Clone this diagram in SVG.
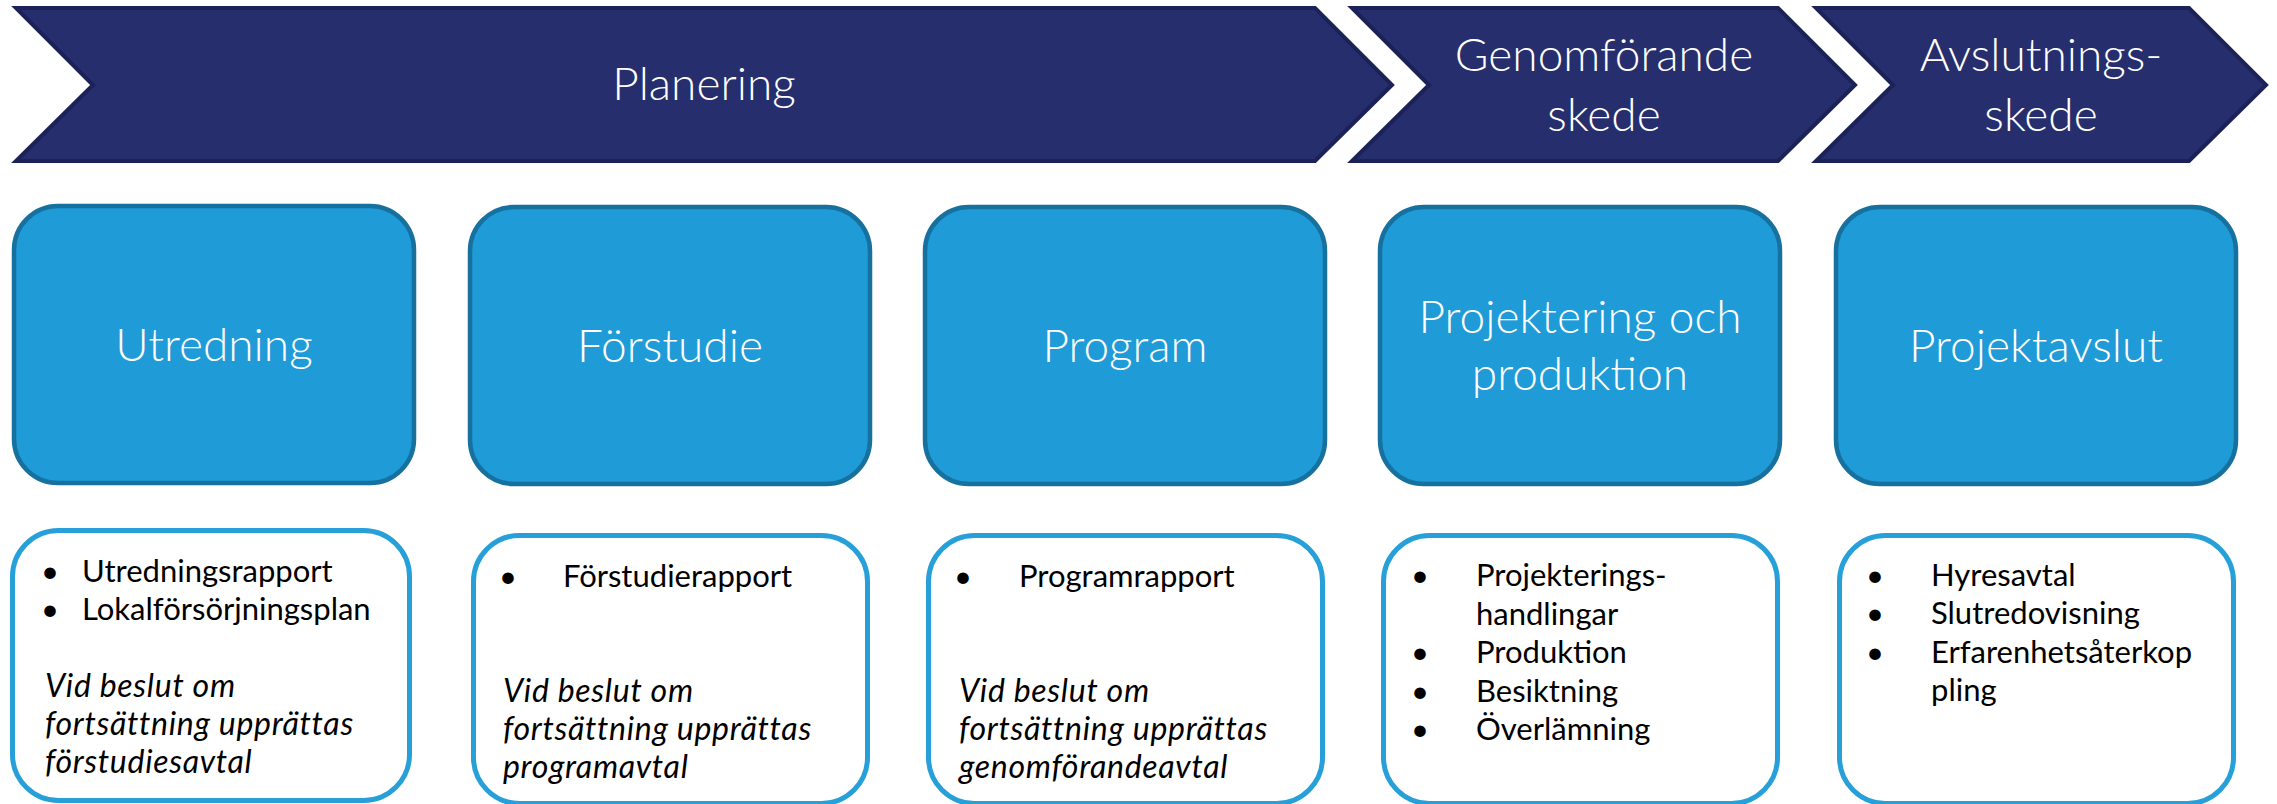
<svg xmlns="http://www.w3.org/2000/svg" width="2277" height="804" viewBox="0 0 2277 804">
  <style>
    .chev { fill: #262e6d; stroke: #1b2257; stroke-width: 4; stroke-linejoin: miter; }
    .phase { fill: #1f9bd8; stroke: #17719f; stroke-width: 4.5; }
    .info { fill: #ffffff; stroke: #27a0da; stroke-width: 5; }
    .big { font-family: Lato, "Open Sans", "Liberation Sans", sans-serif; font-weight: 300; font-size: 46px; fill: #ffffff; text-anchor: middle; }
    .body { font-family: Lato, "Open Sans", "Liberation Sans", sans-serif; font-size: 31px; fill: #000000; }
    .ital { font-family: Lato, "Open Sans", "Liberation Sans", sans-serif; font-size: 32px; letter-spacing: 0.7px; font-style: italic; fill: #000000; }
    .bul { font-family: Lato, "Open Sans", "Liberation Sans", sans-serif; font-size: 31px; fill: #000000; text-anchor: middle; }
  </style>

  <g id="connectors"></g>

  <g id="chevron-planering">
    <path class="chev" d="M16,8 L1315,8 L1392,85 L1315,161 L16,161 L93,85 Z"/>
    <text class="big" x="704" y="100">Planering</text>
  </g>
  <g id="chevron-genomforande">
    <path class="chev" d="M1352,8 L1778,8 L1855,85 L1778,161 L1352,161 L1429,85 Z"/>
    <text class="big" x="1604" y="71">Genomförande</text>
    <text class="big" x="1604" y="131">skede</text>
  </g>
  <g id="chevron-avslutning">
    <path class="chev" d="M1816,8 L2189,8 L2266,85 L2189,161 L1816,161 L1893,85 Z"/>
    <text class="big" x="2041" y="71">Avslutnings-</text>
    <text class="big" x="2041" y="131">skede</text>
  </g>

  <g id="phase-utredning">
    <rect class="phase" x="14" y="206" width="400" height="277" rx="44" ry="44"/>
    <text class="big" x="214" y="361">Utredning</text>
  </g>
  <g id="phase-forstudie">
    <rect class="phase" x="470" y="207" width="400" height="277" rx="44" ry="44"/>
    <text class="big" x="670" y="362">Förstudie</text>
  </g>
  <g id="phase-program">
    <rect class="phase" x="925" y="207" width="400" height="277" rx="44" ry="44"/>
    <text class="big" x="1125" y="362">Program</text>
  </g>
  <g id="phase-projektering">
    <rect class="phase" x="1380" y="207" width="400" height="277" rx="44" ry="44"/>
    <text class="big" x="1580" y="333">Projektering och</text>
    <text class="big" x="1580" y="390">produktion</text>
  </g>
  <g id="phase-projektavslut">
    <rect class="phase" x="1836" y="207" width="400" height="277" rx="44" ry="44"/>
    <text class="big" x="2036" y="362">Projektavslut</text>
  </g>

  <g id="info-utredning">
    <rect class="info" x="12.5" y="530.5" width="397" height="270" rx="46" ry="46"/>
    <text class="bul" x="50" y="582">•</text>
    <text class="body" x="82" y="582">Utredningsrapport</text>
    <text class="bul" x="50" y="620">•</text>
    <text class="body" x="82" y="620">Lokalförsörjningsplan</text>
    <text class="ital" x="45" y="697">Vid beslut om</text>
    <text class="ital" x="45" y="735">fortsättning upprättas</text>
    <text class="ital" x="45" y="773">förstudiesavtal</text>
  </g>
  <g id="info-forstudie">
    <rect class="info" x="473.5" y="535.5" width="394" height="268" rx="46" ry="46"/>
    <text class="bul" x="508" y="587">•</text>
    <text class="body" x="563" y="587">Förstudierapport</text>
    <text class="ital" x="503" y="702">Vid beslut om</text>
    <text class="ital" x="503" y="740">fortsättning upprättas</text>
    <text class="ital" x="503" y="778">programavtal</text>
  </g>
  <g id="info-program">
    <rect class="info" x="928.5" y="535.5" width="394" height="268" rx="46" ry="46"/>
    <text class="bul" x="963" y="587">•</text>
    <text class="body" x="1019" y="587">Programrapport</text>
    <text class="ital" x="959" y="702">Vid beslut om</text>
    <text class="ital" x="959" y="740">fortsättning upprättas</text>
    <text class="ital" x="959" y="778">genomförandeavtal</text>
  </g>
  <g id="info-projektering">
    <rect class="info" x="1383.5" y="535.5" width="394" height="268" rx="46" ry="46"/>
    <text class="bul" x="1420" y="586">•</text>
    <text class="body" x="1476" y="586">Projekterings-</text>
    <text class="body" x="1476" y="625">handlingar</text>
    <text class="bul" x="1420" y="663">•</text>
    <text class="body" x="1476" y="663">Produktion</text>
    <text class="bul" x="1420" y="702">•</text>
    <text class="body" x="1476" y="702">Besiktning</text>
    <text class="bul" x="1420" y="740">•</text>
    <text class="body" x="1476" y="740">Överlämning</text>
  </g>
  <g id="info-projektavslut">
    <rect class="info" x="1839.5" y="535.5" width="394" height="268" rx="46" ry="46"/>
    <text class="bul" x="1875" y="586">•</text>
    <text class="body" x="1931" y="586">Hyresavtal</text>
    <text class="bul" x="1875" y="624">•</text>
    <text class="body" x="1931" y="624">Slutredovisning</text>
    <text class="bul" x="1875" y="663">•</text>
    <text class="body" x="1931" y="663">Erfarenhetsåterkop</text>
    <text class="body" x="1931" y="701">pling</text>
  </g>
</svg>
